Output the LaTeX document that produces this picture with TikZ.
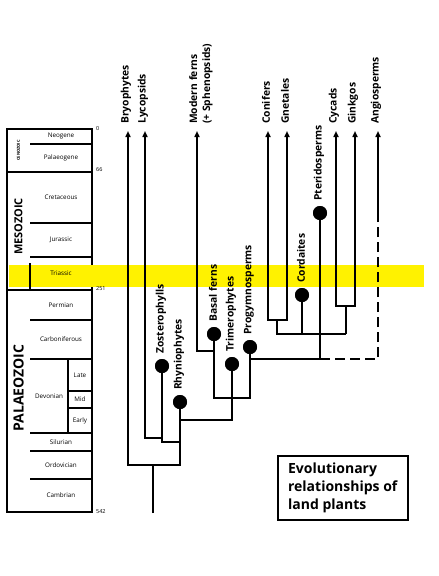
\documentclass[tikz,border=0pt]{standalone}
\usepackage{fontspec}
\setmainfont{Open Sans}
\usetikzlibrary{arrows.meta}
\begin{document}
\begin{tikzpicture}[x=1pt,y=-1pt,
  ln/.style={line width=1.5pt},
  ar/.style={line width=1.5pt,-{Triangle[length=6pt,width=5pt]}},
  dsh/.style={line width=1.5pt,dash pattern=on 10pt off 5pt},
  dotnode/.style={circle,fill=black,minimum size=14pt,inner sep=0pt},
  tx/.style={font=\bfseries\fontsize{10.3}{13}\selectfont,rotate=90,anchor=west,inner sep=0pt},
  per/.style={font=\fontsize{6.3}{7}\selectfont,inner sep=0pt},
  tick/.style={font=\fontsize{5.5}{6}\selectfont,anchor=west,inner sep=0pt},
  era/.style={font=\bfseries,rotate=90,inner sep=0pt}]
\useasboundingbox (0,0) rectangle (439,576);
% time column
\draw[ln] (7,129) rectangle (92,512);
\foreach \yy in {144,223,257,320,359,433,451,479} \draw[ln] (30,\yy) -- (92,\yy);
\foreach \yy in {172,290} \draw[ln] (7,\yy) -- (92,\yy);
\draw[ln] (68,359) -- (68,433);
\draw[ln] (68,391) -- (92,391);
\draw[ln] (68,408) -- (92,408);
% highlight band
\fill[yellow] (9,265) rectangle (424,287);
\draw[ln] (30,263) -- (30,289);
\node[per] (neo) at (61,136.5) {Neogene};
\node[per] (pal) at (61,158) {Palaeogene};
\node[per] (cre) at (61,197.5) {Cretaceous};
\node[per] (jur) at (61,240) {Jurassic};
\node[per] (tri2) at (61,273.5) {Triassic};
\node[per] (per2) at (61,305) {Permian};
\node[per] (car) at (61,339.5) {Carboniferous};
\node[per] (dev) at (49,396) {Devonian};
\node[per] (lat) at (80,375) {Late};
\node[per] (mid) at (80,399.5) {Mid};
\node[per] (ear) at (80,420.5) {Early};
\node[per] (sil) at (61,442) {Silurian};
\node[per] (ord) at (61,465) {Ordovician};
\node[per] (cam) at (61,495.5) {Cambrian};
\node[era,font=\bfseries\fontsize{4}{5}\selectfont] (ceno) at (18.5,150.5) {CENOZOIC};
\node[era,font=\bfseries\fontsize{11}{13}\selectfont] (meso) at (18.5,226.5) {MESOZOIC};
\node[era,font=\bfseries\fontsize{14}{16}\selectfont] (palaeo) at (18.5,388) {PALAEOZOIC};
\node[tick] (t0) at (96,129) {0};
\node[tick] (t66) at (96,170) {66};
\node[tick] (t251) at (96,289) {251};
\node[tick] (t542) at (96,512) {542};
% tree coordinates
\coordinate (tBry) at (128,131);
\coordinate (tLyc) at (145,131);
\coordinate (tFern) at (197,131);
\coordinate (tCon) at (268,131);
\coordinate (tGne) at (287,131);
\coordinate (tCyc) at (336,131);
\coordinate (tGin) at (355,131);
\coordinate (tAng) at (378,131);
\coordinate (root) at (153,513);
\coordinate (j1) at (153,465);
\coordinate (jLZ) at (162,438);
\coordinate (jFP) at (232,398);
\coordinate (jMF) at (214,351);
\coordinate (jPA) at (320,359);
\coordinate (jAng) at (378,219);
\coordinate (jCG) at (277,320);
\coordinate (jCy) at (346,306);
\node[dotnode] (zos) at (162,366) {};
\node[dotnode] (rhy) at (180,402) {};
\node[dotnode] (bas) at (214,334) {};
\node[dotnode] (tri) at (232,364) {};
\node[dotnode] (pro) at (250,347) {};
\node[dotnode] (cor) at (302,295) {};
\node[dotnode] (pte) at (320,213) {};
% branches
\draw[ln] (root) -- (j1);
\draw[ar] (rhy.center) |- (j1) -| (tBry);
\draw[ar] (jLZ) -| (tLyc);
\draw[ln] (zos.center) |- (180,442);
\draw[ln] (tri.center) |- (180,420);
\draw[ln] (bas.center) |- (jFP) -| (pro.center);
\draw[ar] (jMF) -| (tFern);
\draw[ln] (pro.center) |- (jPA);
\draw[ln] (pte.center) -- (jPA);
\draw[dsh] (jPA) -| (jAng);
\draw[ar] (jAng) -- (tAng);
\draw[ar] (jCG) -| (tCon);
\draw[ar] (jCG) -| (tGne);
\draw[ln] (jCG) |- (346,334);
\draw[ln] (cor.center) -- (302,334);
\draw[ar] (jCy) -| (tCyc);
\draw[ar] (jCy) -| (tGin);
\draw[ln] (jCy) -- (346,334);
% redraw dots on top
\foreach \d in {zos,rhy,bas,tri,pro,cor,pte} \fill (\d) circle (7pt);
% labels
\node[tx] (lBry) at (126,124) {Bryophytes};
\node[tx] (lLyc) at (143,124) {Lycopsids};
\node[tx,anchor=north west,align=left] (lFern) at (189,124) {Modern ferns\\(+ Sphenopsids)};
\node[tx] (lCon) at (266,124) {Conifers};
\node[tx] (lGne) at (285,124) {Gnetales};
\node[tx] (lCyc) at (334,124) {Cycads};
\node[tx] (lGin) at (353,124) {Ginkgos};
\node[tx] (lAng) at (376,124) {Angiosperms};
\node[tx] (lZos) at (161,354) {Zosterophylls};
\node[tx] (lRhy) at (179,390) {Rhyniophytes};
\node[tx] (lBas) at (213,322) {Basal ferns};
\node[tx] (lTri) at (231,352) {Trimerophytes};
\node[tx] (lPro) at (249,335) {Progymnosperms};
\node[tx] (lCor) at (301,283) {Cordaites};
\node[tx] (lPte) at (319,201) {Pteridosperms};
% title box
\node[draw,line width=1.5pt,anchor=north west,minimum width=130pt,minimum height=64pt,align=left,inner sep=0pt,
  font=\bfseries\fontsize{14}{18}\selectfont] (title) at (277,455) {Evolutionary\\relationships of\\land plants};
\end{tikzpicture}
\end{document}
